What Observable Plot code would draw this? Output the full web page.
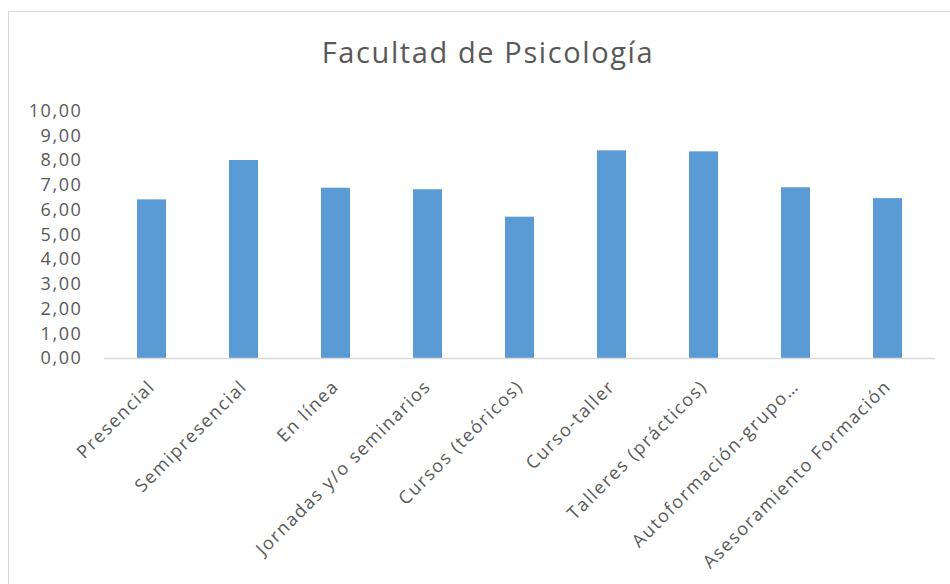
<!DOCTYPE html>
<html>
<head>
<meta charset="utf-8">
<script src="https://cdn.jsdelivr.net/npm/d3@7"></script>
<script src="https://cdn.jsdelivr.net/npm/@observablehq/plot@0.6"></script>
<style>
  html, body { margin: 0; padding: 0; background: #fff; }
  #wrap { position: relative; width: 950px; height: 584px; overflow: hidden; font-family: "Open Sans", sans-serif; }
  #frame { position: absolute; left: 8px; top: 11px; width: 1000px; height: 700px; border: 1.5px solid #d9d9d9; box-sizing: border-box; }
  #title { position: absolute; left: 0; top: 32px; width: 976px; text-align: center; font-size: 29px; letter-spacing: 1.6px; color: #595959; line-height: 40px; }
  #chart { position: absolute; left: 0; top: 0; }
</style>
</head>
<body>
<div id="wrap">
  <div id="frame"></div>
  <div id="title">Facultad de Psicología</div>
  <div id="chart"></div>
</div>
<script>
const categories = [
  "Presencial",
  "Semipresencial",
  "En línea",
  "Jornadas y/o seminarios",
  "Cursos (teóricos)",
  "Curso-taller",
  "Talleres (prácticos)",
  "Autoformación-grupo…",
  "Asesoramiento Formación"
];
const values = [6.41, 8.00, 6.88, 6.82, 5.71, 8.39, 8.35, 6.90, 6.46];
const yTicks = [0, 1, 2, 3, 4, 5, 6, 7, 8, 9, 10];

const data = categories.map((c, i) => ({category: c, value: values[i]}));
const fmt = d => d.toFixed(2).replace(".", ",");

const chart = Plot.plot({
  width: 950,
  height: 584,
  marginLeft: 104,
  marginRight: 15,
  marginTop: 110.5,
  marginBottom: 226,
  style: {fontFamily: "'Open Sans', sans-serif", fontSize: "18px", letterSpacing: "1.6px", color: "#595959", background: "transparent", overflow: "visible"},
  x: {domain: categories, paddingInner: 0.686, paddingOuter: 0.343, label: null},
  y: {domain: [0, 10], label: null},
  marks: [
    Plot.axisY({ticks: yTicks, tickFormat: fmt, tickSize: 0, tickPadding: 22, label: null, fontSize: 18, fill: "#595959"}),
    Plot.axisX({tickSize: 0, tickRotate: -45, tickPadding: 25, label: null, fontSize: 18, fill: "#595959"}),
    Plot.barY(data, {x: "category", y: "value", fill: "#5b9bd5"}),
    Plot.ruleY([0], {stroke: "#d9d9d9", strokeWidth: 1.5})
  ]
});
document.getElementById("chart").appendChild(chart);
</script>
</body>
</html>
